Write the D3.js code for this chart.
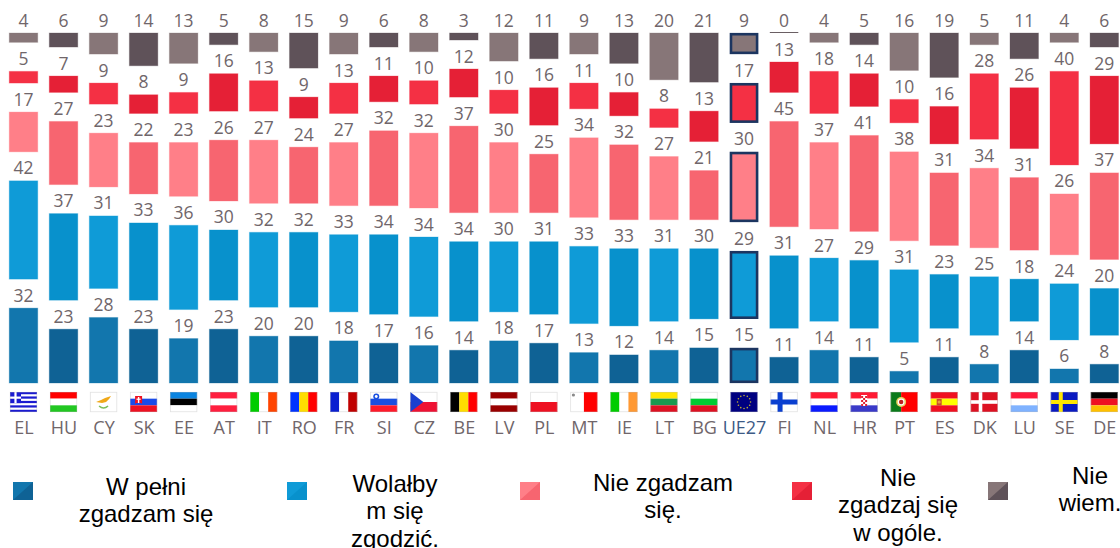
<!DOCTYPE html>
<html><head><meta charset="utf-8">
<script src="https://cdn.jsdelivr.net/npm/d3@7/dist/d3.min.js"></script>
<style>html,body{margin:0;padding:0;background:#fff;overflow:hidden}svg{display:block}</style>
</head><body><svg id="c" width="1120" height="548"></svg>
<script>
const categories=["EL","HU","CY","SK","EE","AT","IT","RO","FR","SI","CZ","BE","LV","PL","MT","IE","LT","BG","UE27","FI","NL","HR","PT","ES","DK","LU","SE","DE"];
const fullyAgree=[32,23,28,23,19,23,20,20,18,17,16,14,18,17,13,12,14,15,15,11,14,11,5,11,8,14,6,8];
const ratherAgree=[42,37,31,33,36,30,32,32,33,34,34,34,30,31,33,33,31,30,29,31,27,29,31,23,25,18,24,20];
const ratherDisagree=[17,27,23,22,23,26,27,24,27,32,32,37,30,25,34,32,27,21,30,45,37,41,38,31,34,31,26,37];
const fullyDisagree=[5,7,9,8,9,16,13,9,13,11,10,12,10,16,11,10,8,13,17,13,18,14,10,16,28,26,40,29];
const dontKnow=[4,6,9,14,13,5,8,15,9,6,8,3,12,11,9,13,20,21,9,0,4,5,16,19,5,11,4,6];
const seriesValues=[fullyAgree,ratherAgree,ratherDisagree,fullyDisagree,dontKnow];
const seriesLight=["#1276ad","#0f9bd7","#ff7f88","#f43044","#877678"];
const seriesDark=["#0f6295","#0891cc","#f76570","#e52036","#5f5259"];
const legendLabels=[["W pełni","zgadzam się"],["Wolałby","m się","zgodzić."],["Nie zgadzam","się."],["Nie","zgadzaj się","w ogóle."],["Nie","wiem."]];
const legendSwatchX=[13,287,520,792,988];
const legendTextX=[146,395,663,898,1090];
const legendTextY=[495,492,491,486,484];
const stripes={HU:["h","#ff0000","#fff","#22c722"],SK:["h","#fff","#1a4be8","#ee1122"],EE:["h","#0a84e0","#000","#fff"],AT:["h","#ff1f3f","#fff","#ff1f3f"],IT:["v","#00cc00","#fff","#ff4400"],RO:["v","#0033ff","#ffdd00","#ff0000"],FR:["v","#0a1fd0","#fff","#c00000"],SI:["h","#fff","#1a4fe0","#ff1a2a"],CZ:["h","#fff","#ee1133"],BE:["v","#000","#ffdd00","#ff0000"],LV:["h","#990000","#fff","#990000"],PL:["h","#fff","#ee1122"],IE:["v","#00cc00","#fff","#ff9933"],LT:["h","#ffe600","#1a9950","#dd1122"],BG:["h","#fff","#00cc33","#dd1122"],NL:["h","#ff1a33","#fff","#0a1aff"],HR:["h","#ff1a33","#fff","#3a3ac8"],ES:["h","#f01020","#ffff00","#f01020"],LU:["h","#ff1a3c","#fff","#7fb2ff"],DE:["h","#000","#ee1122","#ffc000"]};

const svg=d3.select("#c");
const unit=2.34, gap=29, base=383, barW=28.5;
const x=d3.scalePoint().domain(categories).range([23.5,1104.3]);
const y=d3.scaleLinear().domain([0,100]).range([base,base-100*unit]);
const FONT="'Open Sans',sans-serif", TXT="#70666a";

// stacked segments
seriesValues.forEach((vals,s)=>{
  const g=svg.append("g");
  categories.forEach((c,i)=>{
    let sum=0; for(let k=0;k<s;k++) sum+=seriesValues[k][i];
    const v=vals[i], yb=y(sum)-s*gap, yt=y(sum+v)-s*gap;
    const fill=(i%2?seriesDark:seriesLight)[s], cx=x(c);
    if(v===0){
      g.append("rect").attr("x",cx-barW/2).attr("y",yb-1).attr("width",barW).attr("height",1).attr("fill","#6a5f63");
    }else if(c==="UE27"){
      g.append("rect").attr("x",cx-barW/2+1.2).attr("y",yt+1.2).attr("width",barW-2.4).attr("height",yb-yt-2.4)
        .attr("fill",fill).attr("stroke","#1c3560").attr("stroke-width",2.6);
    }else{
      g.append("rect").attr("x",cx-barW/2).attr("y",yt).attr("width",barW).attr("height",yb-yt)
        .attr("fill",fill).attr("stroke",fill).attr("stroke-opacity",.3).attr("stroke-width",1);
    }
    g.append("text").attr("x",cx).attr("y",yt-6.5).attr("text-anchor","middle")
      .attr("font-family",FONT).attr("font-size",17.5).attr("fill",TXT).text(v);
  });
});

// flags
function flag(c,cx){
  const W=27,H=20,g=svg.append("g").attr("transform",`translate(${cx-W/2},392)`);
  const r=(a,b,w,h,f)=>g.append("rect").attr("x",a).attr("y",b).attr("width",w).attr("height",h).attr("fill",f);
  const circ=(a,b,q,f)=>g.append("circle").attr("cx",a).attr("cy",b).attr("r",q).attr("fill",f);
  r(0,0,W,H,"#fff");
  const st=stripes[c];
  if(st){const n=st.length-1;st.slice(1).forEach((f,k)=>{
    if(st[0]==="h") r(0,k*H/n,W,H/n,f); else r(k*W/n,0,W/n,H,f);});}
  if(c==="EL"){for(let k=0;k<9;k++) if(k%2===0) r(0,k*H/9,W,H/9,"#1a1ad0");
    r(0,0,11,H*5/9,"#1a1ad0");r(4.4,0,2.2,H*5/9,"#fff");r(0,H*2/9+.1,11,2.2,"#fff");}
  if(c==="CY"){g.append("path").attr("d","M6,10 L11,8 L15,6 L21,4 L19,7 L16,10 L12,11 Z").attr("fill","#f0a818");
    g.append("path").attr("d","M9,14 Q13.5,18 18,14").attr("fill","none").attr("stroke","#7cbf5a").attr("stroke-width",1.5);}
  if(c==="SK"){r(5,4,7,8,"#ee1122");r(7.8,5,1.4,6,"#fff");r(6.4,6.6,4.2,1.2,"#fff");r(5.5,11,6,1.5,"#1a4be8");}
  if(c==="SI"){circ(6,4.5,3,"#1a4fe0");circ(6,4.5,1.4,"#fff");}
  if(c==="CZ"){g.append("path").attr("d",`M0,0 L13,10 L0,${H} Z`).attr("fill","#1a3fd0");}
  if(c==="LV"){r(0,8,W,4,"#fff");}
  if(c==="MT"){r(13.5,0,13.5,H,"#ff0000");circ(3,3,1.6,"#8a8a8a");}
  if(c==="UE27"){r(0,0,W,H,"#000080");d3.range(12).forEach(k=>{const a=k*Math.PI/6;circ(13.5+6.5*Math.cos(a),10+6.5*Math.sin(a),.8,"#c4b030");});}
  if(c==="FI"){r(7,0,5,H,"#0a3fd0");r(0,7.5,W,5,"#0a3fd0");}
  if(c==="HR"){r(10.5,3,6,11,"#fff");for(let a=0;a<3;a++)for(let b=0;b<5;b++)if((a+b)%2===0)r(10.5+a*2,4+b*2,2,2,"#e02030");}
  if(c==="PT"){r(0,0,10.5,H,"#0a7a1a");r(10.5,0,16.5,H,"#ff0000");circ(10.5,10,5,"#e8d060");circ(10.5,10,3.4,"#fff");circ(10.5,10,2.2,"#c02020");}
  if(c==="ES"){r(6,7,5,6.5,"#c8502a");circ(8.5,10,1.6,"#e8a040");}
  if(c==="DK"){r(0,0,W,H,"#dd1122");r(8,0,3.6,H,"#fff");r(0,8.2,W,3.6,"#fff");}
  if(c==="SE"){r(0,0,W,H,"#0a1ac0");r(8,0,4,H,"#ffe600");r(0,8,W,4,"#ffe600");}
  g.append("rect").attr("x",.25).attr("y",.25).attr("width",W-.5).attr("height",H-.5).attr("fill","none").attr("stroke","#bbb").attr("stroke-opacity",.45).attr("stroke-width",.75);
}
categories.forEach(c=>flag(c,x(c)));

// category axis
const axis=svg.append("g").attr("transform","translate(0,419.5)").call(d3.axisBottom(x).tickSize(0).tickPadding(0));
axis.select(".domain").remove();
axis.selectAll("text").attr("font-family",FONT).attr("font-size",18).attr("dy","0.8em")
  .attr("fill",d=>d==="UE27"?"#3d5a85":TXT);

// legend
legendLabels.forEach((lines,i)=>{
  const sx=legendSwatchX[i], sy=482, sw=20, sh=18;
  svg.append("rect").attr("x",sx).attr("y",sy).attr("width",sw).attr("height",sh).attr("fill",seriesLight[i]);
  svg.append("path").attr("d",`M${sx+sw},${sy} L${sx+sw},${sy+sh} L${sx},${sy+sh} Z`).attr("fill",seriesDark[i]);
  const t=svg.append("text").attr("text-anchor","middle").attr("font-family","'Liberation Sans',Arial,sans-serif").attr("font-size",24).attr("fill","#000");
  lines.forEach((l,k)=>t.append("tspan").attr("x",legendTextX[i]).attr("y",legendTextY[i]+k*27.3).text(l));
});
</script></body></html>
